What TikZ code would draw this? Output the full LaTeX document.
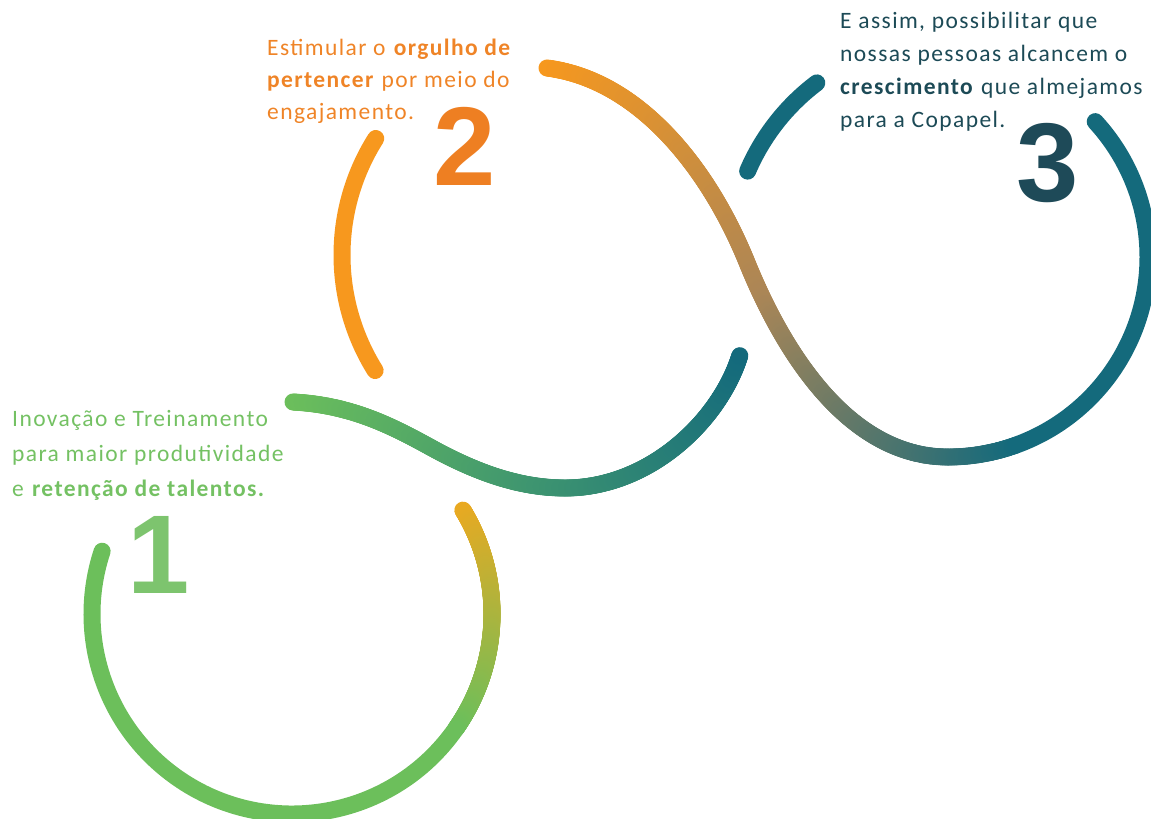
\documentclass[tikz,border=0pt]{standalone}
\usepackage{fontspec}
\setmainfont[LetterSpace=6]{Carlito}
\newfontfamily\digitfont{Liberation Sans}
\usepackage{xcolor}
\usetikzlibrary{decorations.markings}

\definecolor{leaf}{HTML}{6CBF5B}
\definecolor{leaftext}{HTML}{74C163}
\definecolor{leafnum}{HTML}{7DC46E}
\definecolor{sun}{HTML}{EAA921}
\definecolor{sunleaf}{HTML}{ABB43E}
\definecolor{orange}{HTML}{F7981E}
\definecolor{orangetext}{HTML}{EF8427}
\definecolor{orangenum}{HTML}{EE7F22}
\definecolor{dusk}{HTML}{AC8656}
\definecolor{leafteal}{HTML}{3E9570}
\definecolor{teal}{HTML}{146A7C}
\definecolor{tealtext}{HTML}{1C4A56}
\definecolor{tealnum}{HTML}{1E4A58}

\tikzset{
  rope/.style={line width=17pt,line cap=round},
  fade/.style n args={3}{decorate,decoration={markings,
    mark=between positions 0 and 1 step 0.002 with {
      \pgfmathsetmacro\fadepct{min(100,(\pgfkeysvalueof{/pgf/decoration/mark info/sequence number}-1)/5)}
      \ifdim\fadepct pt<50pt
        \pgfmathsetmacro\fadeval{2*\fadepct}\fill[#2!\fadeval!#1] (0,0) circle (8.5pt);
      \else
        \pgfmathsetmacro\fadeval{2*\fadepct-100}\fill[#3!\fadeval!#2] (0,0) circle (8.5pt);
      \fi}}},
  note/.style={inner sep=0pt,align=left,anchor=north west},
  digit/.style={inner sep=0pt,anchor=base,font={\digitfont\bfseries\fontsize{112}{112}\selectfont}}
}

\begin{document}
\begin{tikzpicture}[x=1pt,y=-1pt]
  \useasboundingbox (0,0) rectangle (1151,819);

  % loop 1
  \path[fade={sun}{sunleaf}{leaf}] (292,614) ++(-31.3:200) arc[start angle=-31.3,end angle=35,radius=200];
  \draw[rope,leaf] (292,614) ++(35:200) arc[start angle=35,end angle=198.3,radius=200];

  % loop 2
  \draw[rope,orange] (560,255) ++(212.3:218) arc[start angle=212.3,end angle=148,radius=218];
  \path[fade={leaf}{leafteal}{teal}] (293,402) .. controls (350,405) and (390,425) .. (430,447)
        .. controls (470,469) and (515,488) .. (565,488)
        .. controls (650,488) and (720,420) .. (740,355);

  % loop 3
  \draw[rope,teal] (948,257) ++(203.2:218) arc[start angle=203.2,end angle=233,radius=218];
  \path[fade={orange}{dusk}{teal}] (547,68) .. controls (640,80) and (710,170) .. (748,265)
        .. controls (785,355) and (850,457) .. (948,457)
        arc[start angle=90,end angle=70,radius=200];
  \draw[rope,teal] (948,257) ++(70:200) arc[start angle=70,end angle=-42.6,radius=200];

  % texts
  \node[note,text=leaftext,font={\fontsize{23.5}{35}\selectfont}] (t1) at (12,410)
        {Inovação e Treinamento\\para maior produtividade\\e \textbf{retenção de talentos.}};
  \node[note,text=orangetext,font={\fontsize{23.5}{32}\selectfont}] (t2) at (267,39)
        {Estimular o \textbf{orgulho de}\\\textbf{pertencer} por meio do\\engajamento.};
  \node[note,text=tealtext,font={\fontsize{23.5}{33}\selectfont}] (t3) at (840,12)
        {E assim, possibilitar que\\nossas pessoas alcancem o\\\textbf{crescimento} que almejamos\\para a Copapel.};

  % numbers
  \node[digit,text=leafnum]   (n1) at (159,593)  {1};
  \node[digit,text=orangenum] (n2) at (465,185)  {2};
  \node[digit,text=tealnum]   (n3) at (1048,201) {3};
\end{tikzpicture}
\end{document}
